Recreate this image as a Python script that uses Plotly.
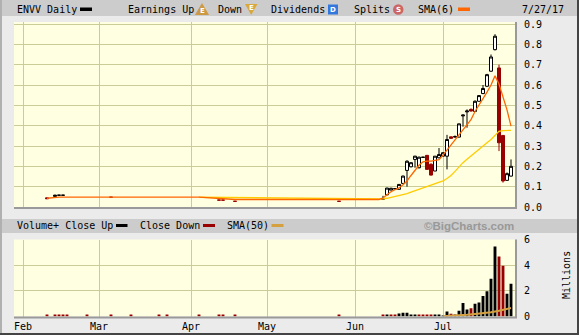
import plotly.graph_objects as go
import pandas as pd

W, H = 579, 335

# ---------------- calendar (trading days) ----------------
holidays = ["2017-02-20", "2017-04-14", "2017-05-29", "2017-07-04"]
trading_days = [d.strftime("%Y-%m-%d") for d in pd.bdate_range("2017-02-01", "2017-07-27")
                if d.strftime("%Y-%m-%d") not in holidays]
pos = {d: i for i, d in enumerate(trading_days)}

month_labels = ["Feb", "Mar", "Apr", "May", "Jun", "Jul"]
month_first = ["2017-02-01", "2017-03-01", "2017-04-03", "2017-05-01", "2017-06-01", "2017-07-03"]

# ---------------- price data (ENVV daily) ----------------
candle_dates = ["2017-02-09", "2017-02-13", "2017-02-14", "2017-02-15", "2017-03-06",
                "2017-04-12", "2017-04-13", "2017-04-19", "2017-05-25",
                "2017-06-12", "2017-06-13", "2017-06-14", "2017-06-15", "2017-06-16",
                "2017-06-19", "2017-06-20", "2017-06-21", "2017-06-22", "2017-06-23",
                "2017-06-26", "2017-06-27", "2017-06-28", "2017-06-29", "2017-06-30",
                "2017-07-03", "2017-07-05", "2017-07-06", "2017-07-07", "2017-07-10",
                "2017-07-11", "2017-07-12", "2017-07-13", "2017-07-14", "2017-07-17",
                "2017-07-18", "2017-07-19", "2017-07-20", "2017-07-21", "2017-07-24",
                "2017-07-25", "2017-07-26", "2017-07-27"]
candle_open = [0.045, 0.052, 0.058, 0.058, 0.048, 0.034, 0.034, 0.028, 0.028,
               0.038, 0.060, 0.083, 0.089, 0.087, 0.116, 0.180, 0.198, 0.234, 0.193,
               0.244, 0.254, 0.210, 0.177, 0.242, 0.250, 0.250, 0.345, 0.344, 0.344,
               0.448, 0.468, 0.480, 0.470, 0.520, 0.558, 0.594, 0.668, 0.774, 0.684,
               0.352, 0.131, 0.152]
candle_high = [0.046, 0.060, 0.058, 0.058, 0.048, 0.034, 0.034, 0.028, 0.028,
               0.055, 0.095, 0.095, 0.091, 0.113, 0.155, 0.230, 0.220, 0.252, 0.248,
               0.246, 0.256, 0.215, 0.250, 0.290, 0.270, 0.355, 0.346, 0.352, 0.410,
               0.455, 0.480, 0.485, 0.525, 0.550, 0.600, 0.655, 0.750, 0.850, 0.700,
               0.352, 0.170, 0.234]
candle_low = [0.040, 0.052, 0.058, 0.058, 0.048, 0.034, 0.034, 0.028, 0.028,
              0.036, 0.058, 0.083, 0.089, 0.087, 0.114, 0.100, 0.195, 0.193, 0.190,
              0.243, 0.185, 0.155, 0.177, 0.240, 0.250, 0.185, 0.335, 0.343, 0.343,
              0.395, 0.390, 0.470, 0.470, 0.520, 0.555, 0.590, 0.665, 0.770, 0.275,
              0.120, 0.130, 0.150]
candle_close = [0.041, 0.058, 0.058, 0.058, 0.048, 0.034, 0.034, 0.028, 0.028,
                0.042, 0.093, 0.092, 0.090, 0.111, 0.152, 0.225, 0.218, 0.250, 0.245,
                0.245, 0.185, 0.157, 0.250, 0.258, 0.267, 0.332, 0.338, 0.346, 0.409,
                0.452, 0.472, 0.472, 0.520, 0.548, 0.583, 0.651, 0.738, 0.840, 0.316,
                0.128, 0.164, 0.200]

# SMA(6) of price (orange) and 50-day average (yellow)
sma6_dates = ["2017-02-09", "2017-02-14", "2017-04-05", "2017-04-19", "2017-06-09",
              "2017-06-12", "2017-06-13", "2017-06-14", "2017-06-15", "2017-06-16",
              "2017-06-19", "2017-06-20", "2017-06-21", "2017-06-22", "2017-06-23",
              "2017-06-26", "2017-06-27", "2017-06-28", "2017-06-29", "2017-06-30",
              "2017-07-03", "2017-07-05", "2017-07-06", "2017-07-07", "2017-07-10",
              "2017-07-11", "2017-07-12", "2017-07-13", "2017-07-14", "2017-07-17",
              "2017-07-18", "2017-07-19", "2017-07-20", "2017-07-21", "2017-07-24",
              "2017-07-25", "2017-07-26", "2017-07-27"]
sma6_values = [0.043, 0.049, 0.049, 0.037, 0.037,
               0.044, 0.060, 0.075, 0.085, 0.094,
               0.110, 0.128, 0.155, 0.178, 0.205,
               0.222, 0.226, 0.226, 0.228, 0.233,
               0.255, 0.280, 0.305, 0.330, 0.355,
               0.380, 0.400, 0.430, 0.470, 0.500,
               0.530, 0.565, 0.600, 0.645, 0.605,
               0.541, 0.478, 0.398]

sma50_dates = ["2017-04-05", "2017-04-26", "2017-05-16", "2017-06-09",
               "2017-06-12", "2017-06-13", "2017-06-14", "2017-06-15", "2017-06-16",
               "2017-06-19", "2017-06-20", "2017-06-21", "2017-06-22", "2017-06-23",
               "2017-06-26", "2017-06-27", "2017-06-28", "2017-06-29", "2017-06-30",
               "2017-07-03", "2017-07-05", "2017-07-06", "2017-07-07", "2017-07-10",
               "2017-07-11", "2017-07-12", "2017-07-13", "2017-07-14", "2017-07-17",
               "2017-07-18", "2017-07-19", "2017-07-20", "2017-07-21", "2017-07-24",
               "2017-07-25", "2017-07-26", "2017-07-27"]
sma50_values = [0.048, 0.045, 0.042, 0.039,
                0.040, 0.043, 0.047, 0.052, 0.056,
                0.060, 0.066, 0.073, 0.080, 0.088,
                0.095, 0.102, 0.108, 0.114, 0.120,
                0.128, 0.140, 0.155, 0.175, 0.197,
                0.218, 0.235, 0.252, 0.268, 0.284,
                0.300, 0.316, 0.332, 0.350, 0.372,
                0.376, 0.377, 0.377]

# ---------------- volume (millions) ----------------
vol_dates = ["2017-02-09", "2017-02-13", "2017-02-14", "2017-02-15", "2017-02-16",
             "2017-02-24", "2017-03-06", "2017-03-13", "2017-03-22", "2017-03-24",
             "2017-04-05", "2017-04-12", "2017-04-13", "2017-04-19", "2017-05-25",
             "2017-06-12", "2017-06-13", "2017-06-14", "2017-06-15", "2017-06-16",
             "2017-06-19", "2017-06-20", "2017-06-21", "2017-06-22", "2017-06-23",
             "2017-06-26", "2017-06-27", "2017-06-28", "2017-06-29", "2017-06-30",
             "2017-07-03", "2017-07-05", "2017-07-06", "2017-07-07", "2017-07-10",
             "2017-07-11", "2017-07-12", "2017-07-13", "2017-07-14", "2017-07-17",
             "2017-07-18", "2017-07-19", "2017-07-20", "2017-07-21", "2017-07-24",
             "2017-07-25", "2017-07-26", "2017-07-27"]
vol_millions = [0.10, 0.08, 0.08, 0.08, 0.08,
                0.08, 0.08, 0.08, 0.08, 0.08,
                0.08, 0.08, 0.08, 0.08, 0.08,
                0.13, 0.10, 0.08, 0.08, 0.23,
                0.30, 0.30, 0.12, 0.10, 0.10,
                0.10, 0.10, 0.10, 0.10, 0.15,
                0.06, 0.39, 0.22, 0.10, 0.45,
                1.06, 0.55, 0.65, 1.00, 1.10,
                1.60, 1.96, 2.95, 5.45, 4.67,
                3.95, 1.78, 2.56]
vol_dir = ["d", "d", "d", "d", "d",
           "d", "d", "d", "d", "d",
           "d", "d", "d", "d", "d",
           "d", "u", "d", "d", "u",
           "u", "u", "u", "u", "d",
           "d", "d", "d", "u", "u",
           "u", "u", "d", "u", "u",
           "u", "u", "d", "u", "u",
           "u", "u", "u", "u", "d",
           "d", "u", "u"]

vsma50_dates = ["2017-07-03", "2017-07-06", "2017-07-10", "2017-07-12", "2017-07-14",
                "2017-07-18", "2017-07-20", "2017-07-24", "2017-07-26", "2017-07-27"]
vsma50_values = [0.02, 0.04, 0.08, 0.13, 0.19, 0.25, 0.33, 0.45, 0.58, 0.66]

price_ticks = [0.0, 0.1, 0.2, 0.3, 0.4, 0.5, 0.6, 0.7, 0.8, 0.9]
vol_ticks = [0, 2, 4, 6]

# ---------------- styling ----------------
MONO = "DejaVu Sans Mono"
GRID = "#CCCC99"
PLOT_BG = "#FFFFE2"
PAPER = "#EBEBEB"
BAND = "#CCCCCC"
UP = "#000000"
DOWN = "#990000"
ORANGE = "#FF6600"
YELLOW = "#FFCC00"
TAN = "#D4A040"


def px(x):
    return x / W


def py(y):
    return 1 - y / H


def idx(dates):
    return [pos[d] for d in dates]


fig = go.Figure()

fig.add_trace(go.Candlestick(
    x=idx(candle_dates), open=candle_open, high=candle_high, low=candle_low, close=candle_close,
    increasing=dict(line=dict(color=UP, width=1), fillcolor="#FFFFFF"),
    decreasing=dict(line=dict(color=DOWN, width=1), fillcolor=DOWN),
    whiskerwidth=0, showlegend=False, xaxis="x", yaxis="y", hoverinfo="skip"))

fig.add_trace(go.Scatter(x=idx(sma50_dates), y=sma50_values, mode="lines",
                         line=dict(color=YELLOW, width=1.3), showlegend=False,
                         xaxis="x", yaxis="y", hoverinfo="skip"))
fig.add_trace(go.Scatter(x=idx(sma6_dates), y=sma6_values, mode="lines",
                         line=dict(color=ORANGE, width=1.3), showlegend=False,
                         xaxis="x", yaxis="y", hoverinfo="skip"))

fig.add_trace(go.Bar(x=idx(vol_dates), y=vol_millions, width=0.72,
                     marker=dict(color=[UP if s == "u" else DOWN for s in vol_dir], line=dict(width=0)),
                     showlegend=False, xaxis="x2", yaxis="y2", hoverinfo="skip"))
fig.add_trace(go.Scatter(x=idx(vsma50_dates), y=vsma50_values, mode="lines",
                         line=dict(color=TAN, width=2), showlegend=False,
                         xaxis="x2", yaxis="y2", hoverinfo="skip"))

month_pos = idx(month_first)
x_range = [-2.25, 123]
x_dom = [px(14), px(515)]

fig.update_layout(
    template="none",
    width=W, height=H, margin=dict(l=0, r=0, t=0, b=0, pad=0), autosize=False,
    paper_bgcolor=PAPER, plot_bgcolor=PLOT_BG,
    boxgap=0.25, boxgroupgap=0,
    font=dict(family=MONO, size=10, color="#000000"),
    xaxis=dict(domain=x_dom, range=x_range, anchor="y", tickvals=month_pos,
               showticklabels=False, showgrid=True, gridcolor=GRID, gridwidth=1,
               zeroline=False, showline=False, ticks="", rangeslider=dict(visible=False),
               fixedrange=True, automargin=False),
    yaxis=dict(domain=[py(207), py(22)], range=[0, 0.91], side="right", anchor="x",
               tickvals=price_ticks, ticktext=["%.1f" % v for v in price_ticks],
               showgrid=True, gridcolor=GRID, gridwidth=1, zeroline=False, showline=False,
               ticks="", ticklabelstandoff=8, tickfont=dict(family=MONO, size=10, color="#000"),
               fixedrange=True, automargin=False),
    xaxis2=dict(domain=x_dom, range=x_range, anchor="y2", tickvals=month_pos,
                ticktext=month_labels, showgrid=True, gridcolor=GRID, gridwidth=1,
                zeroline=False, showline=False, ticks="", ticklabelstandoff=2,
                tickfont=dict(family=MONO, size=10, color="#000"), fixedrange=True,
                automargin=False),
    yaxis2=dict(domain=[py(316.5), py(239.5)], range=[0, 6], side="right", anchor="x2",
                tickvals=vol_ticks, ticktext=[str(v) for v in vol_ticks],
                showgrid=True, gridcolor=GRID, gridwidth=1, zeroline=False, showline=False,
                ticks="", ticklabelstandoff=8, tickfont=dict(family=MONO, size=10, color="#000"),
                fixedrange=True, automargin=False),
)

shapes = []


def rect(x0, y0, x1, y1, color, layer="above", line_color=None):
    shapes.append(dict(type="rect", xref="paper", yref="paper",
                       x0=px(x0), x1=px(x1), y0=py(y1), y1=py(y0),
                       fillcolor=color, layer=layer,
                       line=dict(width=0 if line_color is None else 1, color=line_color or color)))


def hline(x0, x1, y, color, width):
    shapes.append(dict(type="line", xref="paper", yref="paper", x0=px(x0), x1=px(x1),
                       y0=py(y), y1=py(y), line=dict(color=color, width=width), layer="above"))


def vline(x, y0, y1, color, width):
    shapes.append(dict(type="line", xref="paper", yref="paper", x0=px(x), x1=px(x),
                       y0=py(y0), y1=py(y1), line=dict(color=color, width=width), layer="above"))


# legend bands
rect(2, 0, 577, 16, BAND)
rect(2, 219, 577, 233, BAND)
# outer frame
rect(0, 0, 2, 335, "#B0B0B0")
rect(577, 0, 579, 335, "#444444")
rect(0, 333, 579, 335, "#444444")
# plot shadows
hline(14, 517, 208, "#9A9A9A", 2)
vline(516, 22, 209, "#9A9A9A", 2)
hline(14, 517, 317.5, "#9A9A9A", 2)
vline(516, 239.5, 318, "#9A9A9A", 2)

# legend swatches
rect(80, 7.5, 92, 11, "#000000")
rect(458, 7.5, 470, 11, ORANGE)
rect(116, 224, 127.5, 227, "#000000")
rect(203, 224, 215, 227, DOWN)
rect(271.5, 224, 283.5, 227, TAN)

# earnings up triangle
shapes.append(dict(type="path", xref="paper", yref="paper", layer="above",
                   path="M %f %f L %f %f L %f %f Z" % (px(195), py(15), px(209), py(15), px(202), py(3)),
                   fillcolor="#CC9944", line=dict(width=0)))
# earnings down triangle
shapes.append(dict(type="path", xref="paper", yref="paper", layer="above",
                   path="M %f %f L %f %f L %f %f Z" % (px(245), py(4), px(257.5), py(4), px(251.2), py(15)),
                   fillcolor="#D9A83A", line=dict(width=0)))
# dividends square
rect(328, 4.5, 338, 14.5, "#3377DD")
# splits circle
shapes.append(dict(type="circle", xref="paper", yref="paper", layer="above",
                   x0=px(393), x1=px(403.5), y0=py(14.8), y1=py(4.3),
                   fillcolor="#CC6666", line=dict(width=0)))

fig.update_layout(shapes=shapes)

ann = []


def text(x, y, s, anchor="left", size=10, color="#000000", family=MONO, bold=False, angle=0):
    ann.append(dict(xref="paper", yref="paper", x=px(x), y=py(y), text=("<b>%s</b>" % s) if bold else s,
                    showarrow=False, xanchor=anchor, yanchor="middle", textangle=angle,
                    font=dict(family=family, size=size, color=color)))


text(14.5, 9.5, "ENVV Daily")
text(125.5, 9.5, "Earnings Up")
text(216, 9.5, "Down")
text(268.5, 9.5, "Dividends")
text(351.5, 9.5, "Splits")
text(416, 9.5, "SMA(6)")
text(565.5, 9.5, "7/27/17", anchor="right")
text(202, 11, "E", anchor="center", size=7, color="#FFFFFF", family="DejaVu Sans", bold=True)
text(251.2, 8, "E", anchor="center", size=7, color="#FFFFFF", family="DejaVu Sans", bold=True)
text(333, 9.5, "D", anchor="center", size=7, color="#FFFFFF", family="DejaVu Sans", bold=True)
text(398.2, 9.5, "S", anchor="center", size=7, color="#FFFFFF", family="DejaVu Sans", bold=True)

text(14.8, 225.5, "Volume+ Close Up")
text(137.7, 225.5, "Close Down")
text(224.5, 225.5, "SMA(50)")
text(516, 225.5, "©BigCharts.com", anchor="right", size=11.5, color="#999999",
     family="Liberation Sans", bold=True)
text(566.5, 275.5, "Millions", anchor="center", angle=-90)

fig.update_layout(annotations=ann)

fig.write_html("out.html")
